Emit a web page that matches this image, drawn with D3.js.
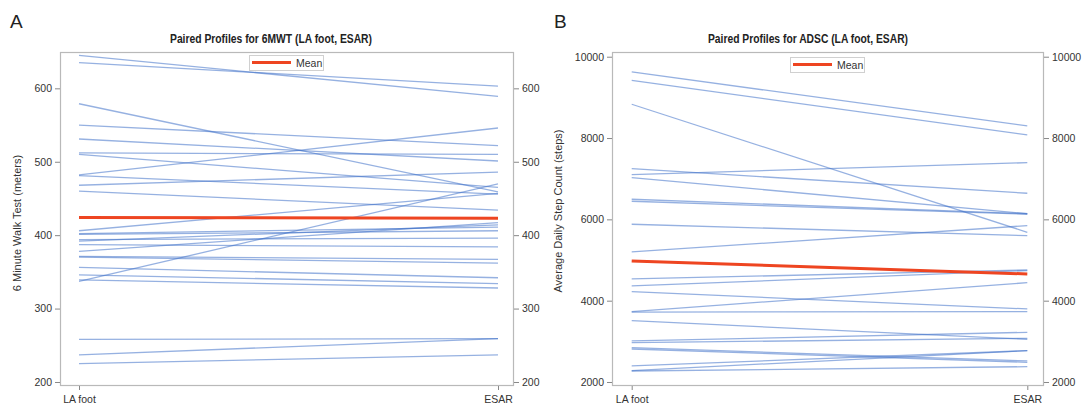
<!DOCTYPE html>
<html>
<head>
<meta charset="utf-8">
<script src="https://cdn.jsdelivr.net/npm/d3@7"></script>
<style>
  html, body { margin: 0; padding: 0; background: #ffffff; }
  svg { display: block; font-family: "Liberation Sans", Arial, sans-serif; }
</style>
</head>
<body>
<svg id="chart" width="1089" height="412"></svg>
<script>
// ---------- data ----------
const categories = ["LA foot", "ESAR"];

// Panel A: 6 Minute Walk Test (meters), one value per subject
const mwtLAfoot = [645, 635, 579, 550, 531, 512, 510, 482, 481, 468, 460, 406, 402, 401, 394, 392, 387, 378, 371, 370, 356, 346, 339, 337, 258, 237, 225];
const mwtESAR   = [589, 603, 459, 522, 501, 510, 465, 546, 456, 486, 434, 457, 411, 406, 396, 414, 384, 417, 367, 362, 342, 334, 328, 470, 259, 259, 237];
const mwtMean   = [424, 423];
const mwtTicks  = [200, 300, 400, 500, 600];

// Panel B: Average Daily Step Count (steps)
const adscLAfoot = [9626, 9420, 8831, 7248, 7100, 7026, 6494, 6445, 5879, 5198, 4534, 4362, 4222, 3730, 3720, 3508, 3009, 2967, 2844, 2812, 2394, 2279, 2270];
const adscESAR   = [8298, 8076, 5682, 6642, 7395, 6140, 6140, 6125, 5600, 5845, 4755, 4740, 3796, 4443, 3730, 3050, 3222, 3075, 2517, 2484, 2771, 2771, 2377];
const adscMean   = [4977, 4657];
const adscTicks  = [2000, 4000, 6000, 8000, 10000];

const titles = ["Paired Profiles for 6MWT (LA foot, ESAR)", "Paired Profiles for ADSC (LA foot, ESAR)"];
const yLabels = ["6 Minute Walk Test (meters)", "Average Daily Step Count (steps)"];
const panelLetters = ["A", "B"];
const legendLabel = "Mean";

// ---------- drawing ----------
const svg = d3.select("#chart");
const lineColor = "#3f71c9";
const meanColor = "#ee4521";
const frameColor = "#b9b9b9";
const textColor = "#333333";

function drawPanel(p) {
  const g = svg.append("g");
  const x = d3.scalePoint().domain(categories).range([p.xFirst, p.xLast]);
  const y = d3.scaleLinear().domain(p.yDomain).range([p.bottom, p.top]);

  // panel letter
  g.append("text").attr("x", p.letterX).attr("y", 28)
    .attr("font-size", 19).attr("fill", "#222").text(p.letter);

  // title
  g.append("text").attr("x", p.titleX).attr("y", 43)
    .attr("text-anchor", "middle").attr("font-weight", "bold")
    .attr("font-size", 12).attr("fill", "#222")
    .attr("textLength", p.titleLen).attr("lengthAdjust", "spacingAndGlyphs")
    .text(p.title);

  // frame
  g.append("rect").attr("x", p.left + 0.5).attr("y", p.top + 0.5)
    .attr("width", p.right - p.left).attr("height", p.bottom - p.top)
    .attr("fill", "none").attr("stroke", frameColor).attr("stroke-width", 1.2);

  // axes
  const styleAxis = sel => {
    sel.select(".domain").remove();
    sel.selectAll(".tick line").attr("stroke", "#888");
    sel.selectAll(".tick text").attr("fill", textColor)
      .attr("font-size", 10.5).attr("font-family", "Liberation Sans, Arial, sans-serif");
  };
  g.append("g").attr("transform", `translate(${p.left},0)`)
    .call(d3.axisLeft(y).tickValues(p.ticks).tickSize(5).tickPadding(3).tickFormat(d3.format("d")))
    .call(styleAxis);
  g.append("g").attr("transform", `translate(${p.right + 1},0)`)
    .call(d3.axisRight(y).tickValues(p.ticks).tickSize(5).tickPadding(3).tickFormat(d3.format("d")))
    .call(styleAxis);
  g.append("g").attr("transform", `translate(0,${p.bottom + 1})`)
    .call(d3.axisBottom(x).tickSize(4).tickPadding(6))
    .call(styleAxis);

  // y label
  g.append("text")
    .attr("transform", `translate(${p.yLabelX},${p.yLabelY}) rotate(-90)`)
    .attr("text-anchor", "middle").attr("font-size", 11).attr("fill", textColor)
    .text(p.yLabel);

  // subject lines
  const line = d3.line().x(d => x(d[0])).y(d => y(d[1]));
  const pairs = p.first.map((v, i) => [[categories[0], v], [categories[1], p.second[i]]]);
  g.append("g").selectAll("path").data(pairs).join("path")
    .attr("d", line).attr("fill", "none")
    .attr("stroke", lineColor).attr("stroke-opacity", 0.55).attr("stroke-width", 1.3);

  // mean line
  g.append("path")
    .attr("d", line([[categories[0], p.mean[0]], [categories[1], p.mean[1]]]))
    .attr("fill", "none").attr("stroke", meanColor).attr("stroke-width", 3);

  // legend
  const lg = g.append("g");
  lg.append("rect").attr("x", p.legX + 0.5).attr("y", p.legY + 0.5).attr("width", 74).attr("height", 15)
    .attr("fill", "#fff").attr("stroke", "#d0d0d0");
  lg.append("line").attr("x1", p.legX + 3).attr("x2", p.legX + 42)
    .attr("y1", p.legY + 7.5).attr("y2", p.legY + 7.5)
    .attr("stroke", meanColor).attr("stroke-width", 3);
  lg.append("text").attr("x", p.legX + 47).attr("y", p.legY + 11.5)
    .attr("font-size", 10.5).attr("fill", textColor).text(legendLabel);
}

drawPanel({
  letter: panelLetters[0], letterX: 10,
  title: titles[0], titleX: 271, titleLen: 202,
  left: 60, right: 513, top: 52, bottom: 385,
  xFirst: 79, xLast: 498,
  yDomain: [195.9, 649.5], ticks: mwtTicks,
  yLabel: yLabels[0], yLabelX: 21, yLabelY: 223,
  first: mwtLAfoot, second: mwtESAR, mean: mwtMean,
  legX: 249, legY: 55
});

drawPanel({
  letter: panelLetters[1], letterX: 554,
  title: titles[1], titleX: 808, titleLen: 200,
  left: 612, right: 1043, top: 52, bottom: 385,
  xFirst: 631.7, xLast: 1027.3,
  yDomain: [1926, 10116], ticks: adscTicks,
  yLabel: yLabels[1], yLabelX: 562, yLabelY: 211,
  first: adscLAfoot, second: adscESAR, mean: adscMean,
  legX: 790, legY: 57
});
</script>
</body>
</html>
